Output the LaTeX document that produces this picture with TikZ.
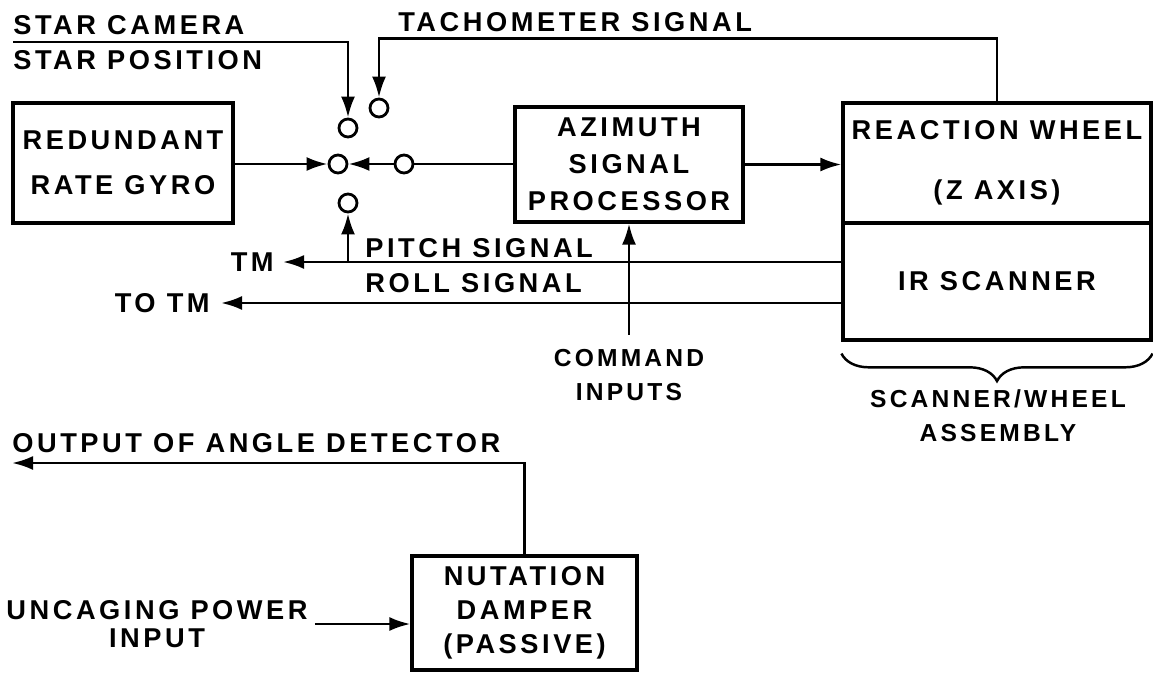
\documentclass[tikz,border=0pt]{standalone}
\usepackage{fontspec}
\setmainfont{Liberation Sans}[LetterSpace=13]
\usetikzlibrary{positioning,arrows.meta,decorations.pathreplacing}

\begin{document}
\begin{tikzpicture}[x=0.02cm,y=-0.02cm,
    block/.style={draw,line width=1.8pt,inner sep=0pt,align=center},
    lbl/.style={inner sep=0pt,font=\bfseries\fontsize{15.5}{18}\selectfont},
    small/.style={inner sep=0pt,align=center,font=\bfseries\fontsize{14}{19.5}\selectfont},
    contact/.style={circle,draw,line width=1.6pt,fill=white,minimum size=0.36cm,inner sep=0pt},
    wire/.style={line width=1.6pt},
    sig/.style={wire,-{Latex[length=12pt,width=8pt]}}]
  \useasboundingbox (0,0) rectangle (1153,673);
  % blocks
  \node[block,minimum width=4.4cm,minimum height=2.4cm,font=\bfseries\fontsize{15.5}{25.5}\selectfont] (gyro) at (123,163) {REDUNDANT\\RATE GYRO};
  \node[block,minimum width=4.56cm,minimum height=2.3cm,font=\bfseries\fontsize{15.5}{21}\selectfont] (asp) at (629,164.5) {AZIMUTH\\SIGNAL\\PROCESSOR};
  \node[block,minimum width=6.16cm,minimum height=2.4cm,font=\bfseries\fontsize{15.5}{34}\selectfont] (wheel) at (997,163) {REACTION WHEEL\\(Z AXIS)};
  \node[block,minimum width=6.16cm,minimum height=2.34cm,font=\bfseries\fontsize{15.5}{21}\selectfont] (scanner) at (997,281.5) {IR SCANNER};
  \node[block,minimum width=4.5cm,minimum height=2.28cm,font=\bfseries\fontsize{15.5}{19.5}\selectfont] (damper) at (524.5,613) {NUTATION\\DAMPER\\(PASSIVE)};
  % switch contacts
  \node[contact] (sw0) at (338,164) {};
  \node[contact] (swc) at (348,128) {};
  \node[contact] (swt) at (379,108) {};
  \node[contact] (swp) at (348,203) {};
  \node[contact] (swa) at (404,164) {};
  % labels
  \node[lbl,anchor=west] (camera) at (13,25) {STAR CAMERA};
  \node[lbl,anchor=west] (starpos) at (13,60) {STAR POSITION};
  \node[lbl,anchor=west] (tacho) at (398,22) {TACHOMETER SIGNAL};
  \node[lbl,anchor=west] (pitch) at (365,248) {PITCH SIGNAL};
  \node[lbl,anchor=west] (roll) at (365,283) {ROLL SIGNAL};
  \node[lbl,anchor=east,inner xsep=0.18cm] (tm) at (283,262) {TM};
  \node[lbl,anchor=east,inner xsep=0.22cm] (totm) at (221,303) {TO TM};
  \node[small] (command) at (629,375) {COMMAND\\INPUTS};
  \node[small] (assembly) at (998,416) {SCANNER/WHEEL\\ASSEMBLY};
  \node[lbl,anchor=west] (angle) at (12,443) {OUTPUT OF ANGLE DETECTOR};
  \node[lbl,align=center,font=\bfseries\fontsize{15.5}{15.5}\selectfont] (uncage) at (157,624) {UNCAGING POWER\\INPUT};
  \coordinate (camin) at (13,42);
  \coordinate (angleout) at (12,463);
  \coordinate (pitchsrc) at ([yshift=0.39cm]scanner.west);
  \coordinate (rollsrc) at ([yshift=-0.43cm]scanner.west);
  % connectors
  \draw[sig] (camin) -| (swc.north);
  \draw[sig] (wheel.north) -- ++(0,-63) -| (swt.north);
  \draw[sig] (gyro.east |- sw0) -- (sw0.west);
  \draw[sig] (swa.west) -- (sw0.east);
  \draw[wire] (swa.east) -- (asp.west |- swa);
  \draw[sig] (asp.east) -- (asp.east -| wheel.west);
  \draw[sig] (pitchsrc) -- (pitchsrc -| tm.east);
  \draw[sig] (pitchsrc -| swp.south) -- (swp.south);
  \draw[sig] (rollsrc) -- (rollsrc -| totm.east);
  \draw[sig] ([yshift=0.28cm]command.north) -- (asp.south);
  \draw[decorate,decoration={brace,mirror,amplitude=0.55cm},line width=1.4pt]
    ([yshift=-0.24cm]scanner.south west) -- ([yshift=-0.24cm]scanner.south east);
  \draw[sig] (damper.north) |- (angleout);
  \draw[sig] ([xshift=0.14cm]uncage.east) -- (uncage.east -| damper.west);
\end{tikzpicture}
\end{document}
